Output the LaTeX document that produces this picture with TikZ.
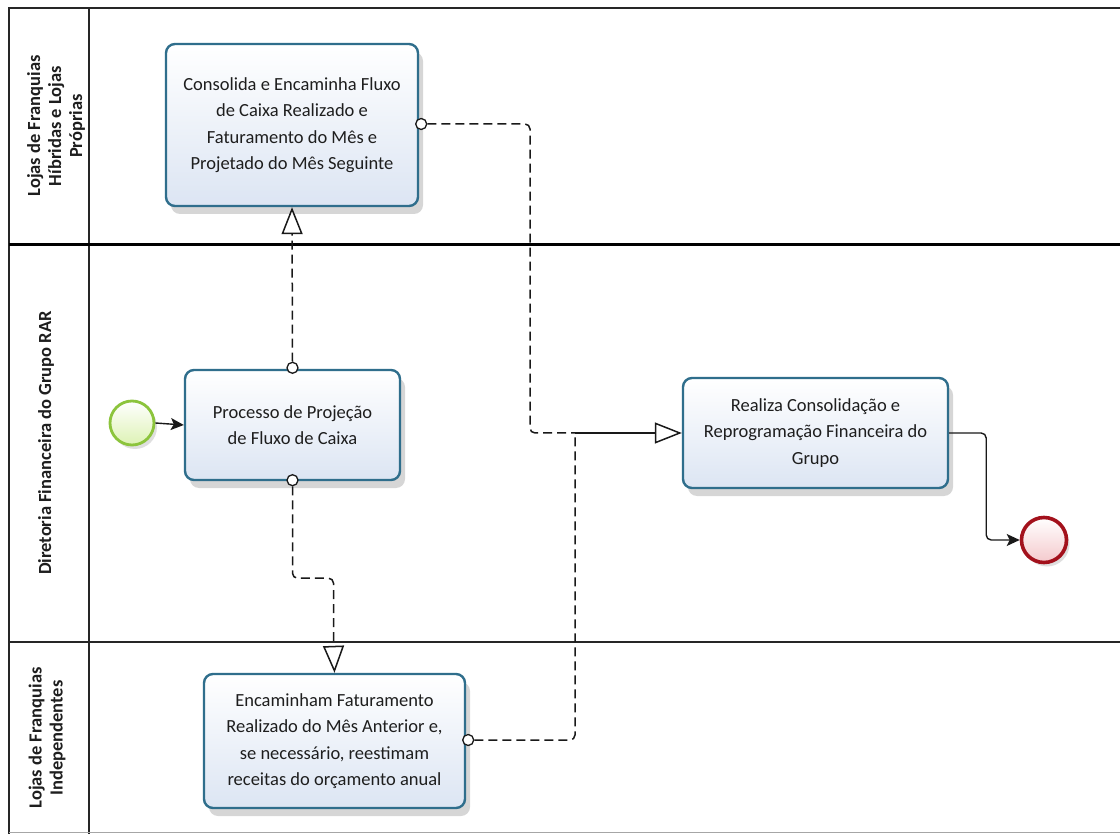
\documentclass[tikz,border=0pt]{standalone}
\usepackage{fontspec}
\setmainfont{Carlito}
\usetikzlibrary{arrows.meta,shadows,calc}

\definecolor{taskedge}{HTML}{2F6E8C}
\definecolor{taskfill}{HTML}{DCE5F3}
\definecolor{txt}{HTML}{1E1E1E}
\definecolor{startedge}{HTML}{8CC43C}
\definecolor{startfill}{HTML}{DDF2B4}
\definecolor{endedge}{HTML}{A3111C}
\definecolor{endfill}{HTML}{F4C9CC}

\tikzset{
  lanerule/.style={draw=black!85, line width=1.6pt},
  lanelabel/.style={rotate=90, font=\fontsize{18.5}{21}\selectfont\bfseries,
    text=txt, align=center},
  taskbox/.style={draw=taskedge, line width=2.4pt, rounded corners=9pt,
    top color=white, bottom color=taskfill, text=txt, align=center,
    font=\fontsize{18.5}{26.5}\selectfont,
    drop shadow={opacity=0.32, shadow xshift=5pt, shadow yshift=-8pt}},
  startev/.style={circle, draw=startedge, line width=2.8pt, minimum size=44pt,
    inner sep=0pt, top color=white, bottom color=startfill,
    drop shadow={opacity=0.25, shadow xshift=3pt, shadow yshift=-4pt}},
  endev/.style={circle, draw=endedge, line width=3.6pt, minimum size=45pt,
    inner sep=0pt, top color=white, bottom color=endfill,
    drop shadow={opacity=0.25, shadow xshift=3pt, shadow yshift=-4pt}},
  seqflow/.style={draw=black!90, line width=1.4pt, rounded corners=5pt,
    -{Stealth[length=13pt, width=12pt, inset=3pt]}},
  msgflow/.style={draw=black!90, line width=1.5pt, rounded corners=5pt,
    dash pattern=on 9pt off 5pt},
  msgsolid/.style={draw=black!90, line width=1.5pt},
  msgtip/.style={-{Triangle[open, length=27pt, width=21pt, fill=white]}},
  msgdot/.style={circle, draw=black!90, line width=1.3pt, fill=white,
    minimum size=11pt, inner sep=0pt},
}

\begin{document}
\begin{tikzpicture}[x=1pt, y=-1pt]
  \useasboundingbox[fill=white] (0,0) rectangle (1120,834);

  % pool and lanes
  \draw[lanerule] (1120,8) -- (9,8) -- (9,834);
  \draw[lanerule] (89,8) -- (89,834);
  \draw[draw=black, line width=3pt] (9,245) -- (1120,245);
  \draw[lanerule] (8,642) -- (1120,642);
  \draw[draw=black!35, line width=0.8pt] (9,832) -- (1120,832);

  \node[lanelabel] (lane1) at (56,126) {Lojas de Franquias\\Híbridas e Lojas\\Próprias};
  \node[lanelabel] (lane2) at (46,443) {Diretoria Financeira do Grupo RAR};
  \node[lanelabel] (lane3) at (47,738) {Lojas de Franquias\\Independentes};

  % activities
  \node[taskbox, minimum width=252pt, minimum height=162pt] (consolida) at (292,125)
    {Consolida e Encaminha Fluxo\\de Caixa Realizado e\\Faturamento do Mês e\\Projetado do Mês Seguinte};
  \node[taskbox, minimum width=215pt, minimum height=110pt] (processo) at (292.5,425)
    {Processo de Projeção\\de Fluxo de Caixa};
  \node[taskbox, minimum width=265pt, minimum height=110pt] (realiza) at (815.5,433)
    {Realiza Consolidação e\\Reprogramação Financeira do\\Grupo};
  \node[taskbox, minimum width=261pt, minimum height=134pt] (encaminham) at (334.5,741)
    {Encaminham Faturamento\\Realizado do Mês Anterior e,\\se necessário, reestimam\\receitas do orçamento anual};

  % events
  \node[startev] (inicio) at (132,423) {};
  \node[endev] (fim) at (1044,540) {};

  % sequence flows
  \draw[seqflow] (inicio.east) -- (processo.west);
  \draw[seqflow] (realiza.east) -- ++(37,0) |- (fim.west);

  % message flow: Processo -> Consolida
  \node[msgdot] (d1) at ($(processo.north)+(0,-1)$) {};
  \draw[msgflow, msgtip] (d1.north) -- (consolida.south);

  % message flow: Processo -> Encaminham
  \node[msgdot] (d2) at ($(processo.south)+(0,-1)$) {};
  \coordinate (b1) at ($(processo.south)+(0,97)$);
  \draw[msgflow, msgtip] (d2.south) -- (b1) -| ($(encaminham.north)+(-1,-28)$)
    -- (encaminham.north);

  % message flows joining into Realiza
  \coordinate (junta) at (575,433);
  \node[msgdot] (d3) at ($(consolida.east)+(2,-1)$) {};
  \draw[msgflow] (d3.east) -- (530,124) -- (530,433) -- (junta);
  \node[msgdot] (d4) at ($(encaminham.east)+(2,-1)$) {};
  \draw[msgflow] (d4.east) -- (575,740) -- (575,440) [sharp corners] -- (junta);
  \draw[msgsolid, msgtip] (junta) -- (realiza.west);
\end{tikzpicture}
\end{document}
